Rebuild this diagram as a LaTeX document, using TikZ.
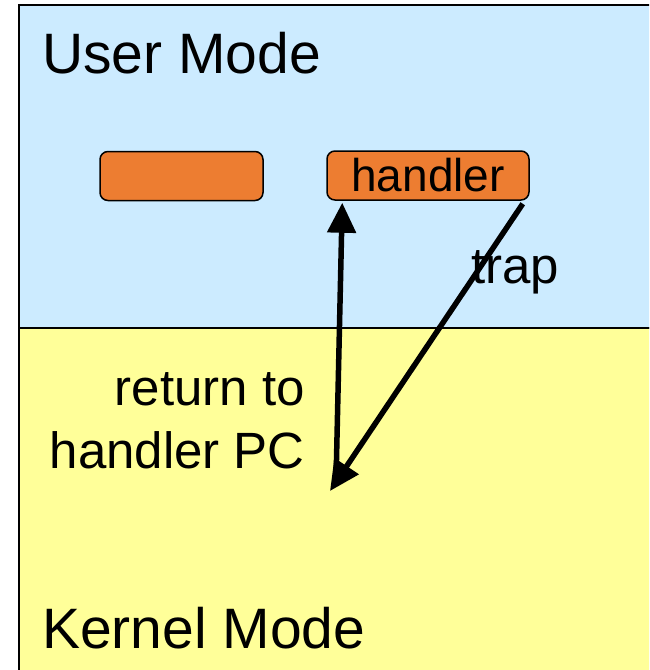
\documentclass[tikz,border=0pt]{standalone}
\usepackage{fontspec}
\setmainfont{Liberation Sans}
\usetikzlibrary{arrows.meta}
\definecolor{userblue}{HTML}{CCEBFF}
\definecolor{kernyellow}{HTML}{FFFF99}
\definecolor{boxorange}{HTML}{ED7D31}
\tikzset{
  procbox/.style={draw=black, line width=1.5pt, fill=boxorange, rounded corners=8pt,
    minimum height=49pt, inner sep=0pt},
  arr/.style={line width=5.5pt, -{Triangle[length=30pt,width=28pt]}},
  big/.style={font=\fontsize{57}{60}\selectfont, inner sep=0pt},
  lbl/.style={font=\fontsize{51}{63}\selectfont, inner sep=0pt}
}
\begin{document}
\begin{tikzpicture}[x=1pt,y=-1pt]
  \useasboundingbox (0,0) rectangle (649,670);
  \begin{scope}
    \clip (0,0) rectangle (649,670);
    \draw[line width=2pt, fill=userblue] (19,5) rectangle (700,328);
    \draw[line width=2pt, fill=kernyellow] (19,328) rectangle (700,720);
  \end{scope}
  % mode labels
  \node[big, anchor=base west] (user) at (42,73) {User Mode};
  \node[big, anchor=base west] (kernel) at (42,648) {Kernel Mode};
  % the two boxes
  \node[procbox, minimum width=163pt] (prog) at (181.5,176) {};
  \node[procbox, minimum width=202pt, font=\fontsize{46}{50}\selectfont] (handler) at (428,175.5) {handler};
  \coordinate (kern) at (330,491);
  % trap and return
  \draw[arr] ([xshift=-7pt,yshift=-3pt]handler.south east) -- (kern);
  \draw[arr] ([xshift=6pt,yshift=9pt]kern) -- ([xshift=16pt,yshift=-2pt]handler.south west);
  \node[lbl, anchor=base west] (traplbl) at (471,283) {trap};
  \node[lbl, anchor=base east, align=right] (retlbl) at (305,468) {return to\\handler PC};
\end{tikzpicture}
\end{document}
